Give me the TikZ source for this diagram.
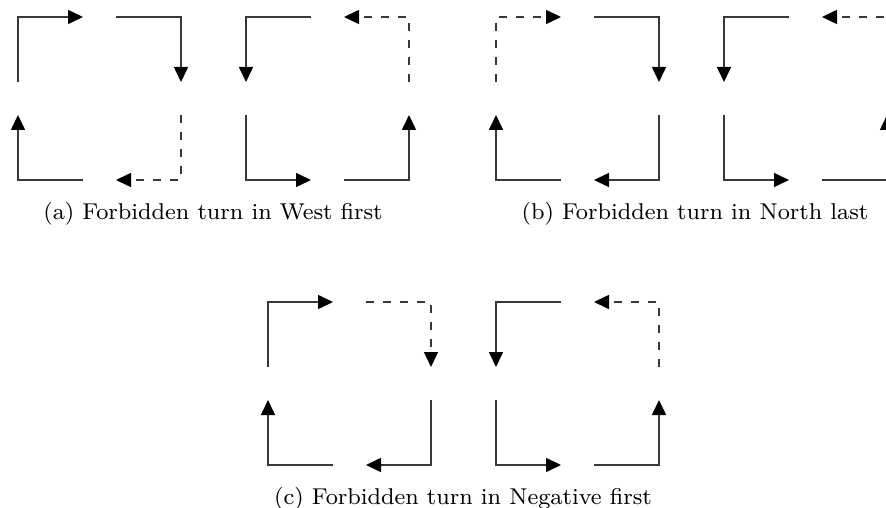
\documentclass[tikz,border=0pt]{standalone}
\usetikzlibrary{arrows.meta}
\tikzset{
  seg/.style={line width=1.6bp, draw=black!78, line cap=butt, line join=miter,
    -{Triangle[length=15bp,width=14bp,black]}},
  dseg/.style={seg, dash pattern=on 8bp off 9bp},
  captext/.style={anchor=base, inner sep=0pt},
}
\newcommand{\captxt}[1]{\scalebox{2.87}{\fontsize{8}{10}\selectfont #1}}
% clockwise loop; #3..#6 styles for TL, TR, BR, BL
\newcommand{\cwloop}[6]{%
  \begin{scope}[shift={(#1,#2)}]
    \draw[#3] (0,65) -- (0,0) -- (65,0);
    \draw[#4] (98,0) -- (163,0) -- (163,65);
    \draw[#5] (163,98) -- (163,163) -- (98,163);
    \draw[#6] (65,163) -- (0,163) -- (0,98);
  \end{scope}}
% counter-clockwise loop; #3..#6 styles for TL, BL, BR, TR
\newcommand{\ccwloop}[6]{%
  \begin{scope}[shift={(#1,#2)}]
    \draw[#3] (65,0) -- (0,0) -- (0,65);
    \draw[#4] (0,98) -- (0,163) -- (65,163);
    \draw[#5] (98,163) -- (163,163) -- (163,98);
    \draw[#6] (163,65) -- (163,0) -- (98,0);
  \end{scope}}
\begin{document}
\begin{tikzpicture}[x=1bp, y=-1bp]
  \useasboundingbox (0,0) rectangle (886,508);
  % (a) West first
  \cwloop{18}{17}{seg}{seg}{dseg}{seg}
  \ccwloop{246}{17}{seg}{seg}{seg}{dseg}
  \node[captext] (capa) at (213,220) {\captxt{(a) Forbidden turn in West first}};
  % (b) North last
  \cwloop{496}{17}{dseg}{seg}{seg}{seg}
  \ccwloop{724}{17}{seg}{seg}{seg}{dseg}
  \node[captext] (capb) at (695,220) {\captxt{(b) Forbidden turn in North last}};
  % (c) Negative first
  \cwloop{268}{302}{seg}{dseg}{seg}{seg}
  \ccwloop{496}{302}{seg}{seg}{seg}{dseg}
  \node[captext] (capc) at (463,504) {\captxt{(c) Forbidden turn in Negative first}};
\end{tikzpicture}
\end{document}
